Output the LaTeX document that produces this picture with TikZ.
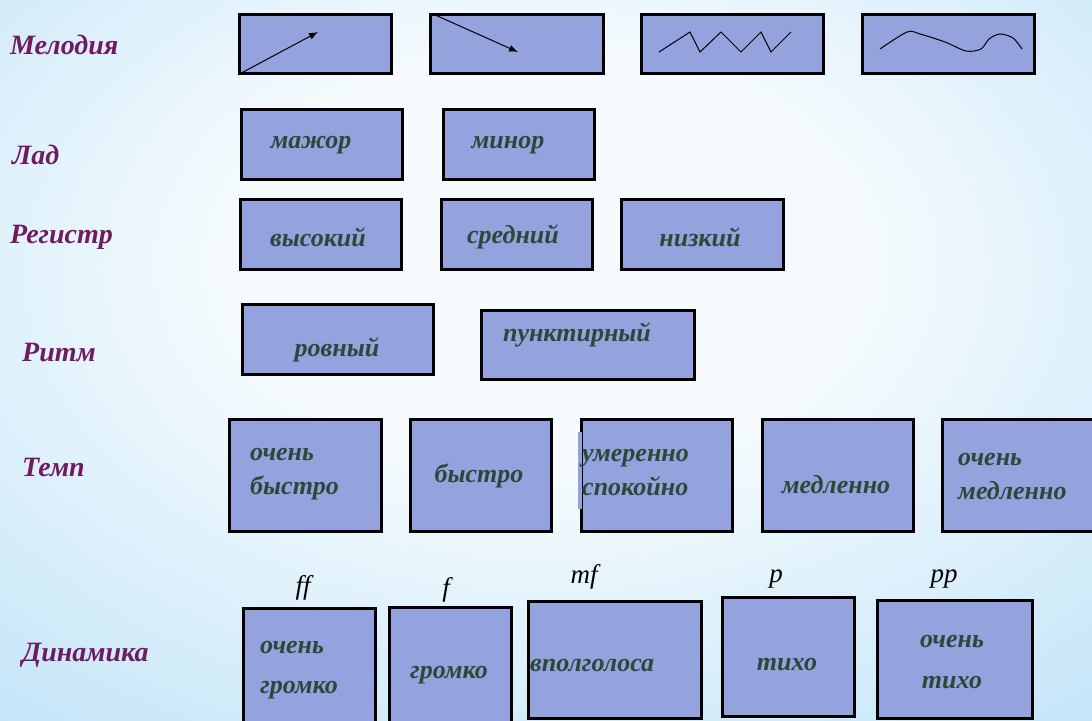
\documentclass[tikz,border=0pt]{standalone}
\usepackage{fontspec}
\setmainfont{Liberation Serif}
\usetikzlibrary{arrows.meta}
\definecolor{boxfill}{RGB}{148,162,222}
\definecolor{txtgreen}{RGB}{44,72,56}
\definecolor{lblpurple}{RGB}{112,26,96}
\definecolor{bgblue}{RGB}{170,218,244}
\definecolor{bgwhite}{RGB}{246,251,254}
\pgfdeclareradialshading{bgshade}{\pgfpoint{0bp}{8bp}}{color(0bp)=(bgwhite); color(14bp)=(bgwhite); color(52bp)=(bgblue); color(100bp)=(bgblue)}
\begin{document}
\begin{tikzpicture}[x=1pt,y=-1pt,
  box/.style={draw=black, line width=2.8pt, fill=boxfill, inner sep=0pt, anchor=north west},
  sz/.style 2 args={minimum width=#1pt, minimum height=#2pt},
  lbl/.style={font=\fontsize{28}{28}\selectfont\bfseries\itshape, text=lblpurple, anchor=west, inner sep=0pt},
  btxt/.style={font=\fontsize{26}{34}\selectfont\bfseries\itshape, text=txtgreen, inner sep=0pt},
  dyn/.style={font=\fontsize{27}{27}\selectfont\itshape, text=black, inner sep=0pt},
  thin/.style={line width=1pt, draw=black},
  tip/.style={-{Latex[length=9pt,width=7pt]}}]
\shade[shading=bgshade] (0,0) rectangle (1092,720);
\useasboundingbox (0,0) rectangle (1092,720);
\clip (0,0) rectangle (1092,720);

% Labels
\node[lbl] (lmel) at (10,45) {Мелодия};
\node[lbl] (llad) at (12,155) {Лад};
\node[lbl] (lreg) at (10,237) {Регистр};
\node[lbl] (lrit) at (22,352) {Ритм};
\node[lbl] (ltem) at (22,467) {Темп};
\node[lbl] (ldin) at (22,655) {Динамика};

% Row 1: melody
\node[box, sz={152}{59}] (m1) at (238,13) {};
\node[box, sz={173}{59}] (m2) at (429,13) {};
\node[box, sz={182}{59}] (m3) at (640,13) {};
\node[box, sz={172}{59}] (m4) at (861,13) {};
\coordinate (a1) at (318,32);
\coordinate (a2s) at (433,14);
\coordinate (a2) at (518,52);
\draw[thin, tip] (m1.south west) -- (a1);
\draw[thin, tip] (a2s) -- (a2);
\draw[thin, line join=miter] (659,52) -- (690,32) -- (700,52) -- (721,32) -- (741,52) -- (761,32) -- (771,52) -- (791,32);
\draw[thin] plot[smooth, tension=0.5] coordinates {(880,49) (907,32) (920,34) (945,42) (966,51) (981,49) (989,39) (1000,34) (1013,38) (1022,49)};

% Row 2: mode
\node[box, sz={161}{70}] (l1) at (240,108) {};
\node[box, sz={151}{70}] (l2) at (442,108) {};
\node[btxt] (tl1) at (311,145) {мажор};
\node[btxt] (tl2) at (508,145) {минор};

% Row 3: register
\node[box, sz={161}{70}] (r1) at (239,198) {};
\node[box, sz={151}{70}] (r2) at (440,198) {};
\node[box, sz={162}{70}] (r3) at (620,198) {};
\node[btxt] (tr1) at (318,237) {высокий};
\node[btxt] (tr2) at (513,237) {средний};
\node[btxt] (tr3) at (700,237) {низкий};

% Row 4: rhythm
\node[box, sz={191}{70}] (ri1) at (241,303) {};
\node[box, sz={213}{69}] (ri2) at (480,309) {};
\node[btxt] (tri1) at (337,350) {ровный};
\node[btxt] (tri2) at (577,335) {пунктирный};

% Row 5: tempo
\node[box, sz={152}{112}] (t1) at (228,418) {};
\node[box, sz={141}{112}] (t2) at (409,418) {};
\node[box, sz={151}{112}] (t3) at (580,418) {};
\node[box, sz={151}{112}] (t4) at (761,418) {};
\node[box, sz={160}{112}] (t5) at (941,418) {};
\draw[boxfill, line width=4pt] ([yshift=-14pt]t3.north west) -- ([yshift=24pt]t3.south west);
\node[btxt, align=left, anchor=west] (tt1) at (250,474) {очень\\быстро};
\node[btxt] (tt2) at (479,476) {быстро};
\node[btxt, align=left, anchor=west] (tt3) at (582,473) {умеренно\\спокойно};
\node[btxt] (tt4) at (836,485) {медленно};
\node[btxt, align=left, anchor=west] (tt5) at (958,476) {очень\\медленно};

% Row 6: dynamics
\node[box, sz={132}{125}] (d1) at (242,607) {};
\node[box, sz={122}{125}] (d2) at (388,606) {};
\node[box, sz={173}{117}] (d3) at (527,600) {};
\node[box, sz={132}{119}] (d4) at (721,596) {};
\node[box, sz={155}{118}] (d5) at (876,599) {};
\node[dyn] (dff) at (303,588) {ff};
\node[dyn] (df) at (446,590) {f};
\node[dyn] (dmf) at (584,577) {mf};
\node[dyn] (dp) at (776,579) {p};
\node[dyn] (dpp) at (944,579) {pp};
\node[btxt, align=left, anchor=west, font=\fontsize{26}{40}\selectfont\bfseries\itshape] (td1) at (260,670) {очень\\громко};
\node[btxt] (td2) at (449,675) {громко};
\node[btxt, anchor=west] (td3) at (530,665) {вполголоса};
\node[btxt] (td4) at (787,665) {тихо};
\node[btxt, align=center, font=\fontsize{26}{41}\selectfont\bfseries\itshape] (td5) at (952,662) {очень\\тихо};
\end{tikzpicture}
\end{document}
